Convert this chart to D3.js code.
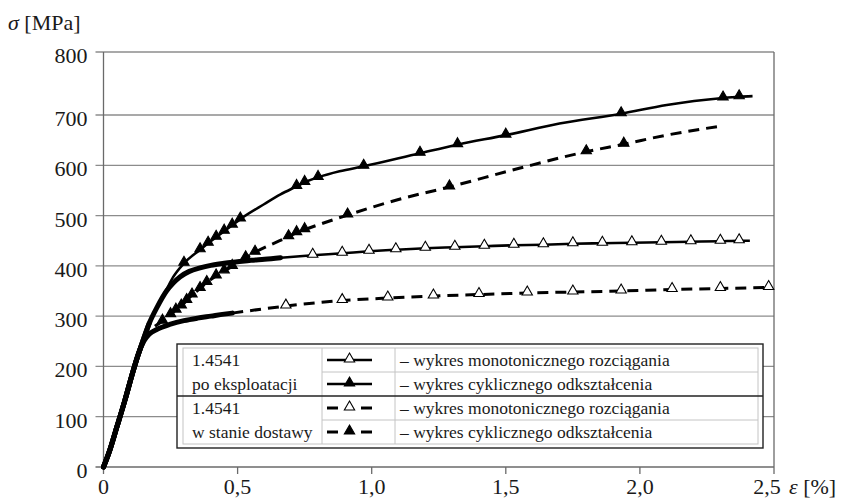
<!DOCTYPE html>
<html>
<head>
<meta charset="utf-8">
<script src="https://cdn.jsdelivr.net/npm/d3@7"></script>
<style>
  body { margin: 0; background: #fff; }
</style>
</head>
<body>
<svg id="chart" width="852" height="500"></svg>
<script>
// ---- axis ticks ----
const stressTicks = [0, 100, 200, 300, 400, 500, 600, 700, 800];
const strainTicks = [0, 0.5, 1.0, 1.5, 2.0, 2.5];
const strainTickLabels = ["0", "0,5", "1,0", "1,5", "2,0", "2,5"];

// ---- 1.4541 po eksploatacji: monotonic tension ----
const serviceMonoDense = [[0,0],[0.02,28],[0.05,80],[0.08,133],[0.11,190],[0.14,240],[0.17,285],[0.20,318],[0.235,350],[0.26,366],[0.285,378],[0.32,389],[0.36,396],[0.40,401],[0.45,405],[0.50,408],[0.55,411],[0.60,413],[0.66,416]];
const serviceMonoMarks = [[0.78,421],[0.89,425],[0.99,429],[1.09,432],[1.20,435],[1.31,437],[1.42,439],[1.53,441],[1.64,442],[1.75,444],[1.86,445],[1.97,446],[2.08,447],[2.19,448],[2.30,449],[2.37,450]];
const serviceMonoTail = [[2.41,450]];

// ---- 1.4541 po eksploatacji: cyclic strain curve ----
const serviceCycDense = [[0,0],[0.02,28],[0.05,80],[0.08,133],[0.11,190],[0.14,240],[0.17,285]];
const serviceCycMarks = [[0.30,405],[0.36,432],[0.39,445],[0.42,457],[0.45,469],[0.48,481],[0.51,493],[0.72,558],[0.75,566],[0.80,576],[0.97,598],[1.18,624],[1.32,641],[1.50,660],[1.93,702],[2.31,727],[2.37,729]];
const serviceCycTail = [[0.20,319],[0.235,353],[0.26,378],[0.60,523],[0.66,542],[0.88,588],[1.70,683],[2.10,716],[2.42,730]];

// ---- 1.4541 w stanie dostawy: monotonic tension ----
const deliveryMonoDense = [[0,0],[0.02,28],[0.05,80],[0.08,133],[0.11,190],[0.13,225],[0.15,250],[0.17,264],[0.20,274],[0.25,284],[0.30,291],[0.35,296],[0.40,300],[0.45,304],[0.48,306]];
const deliveryMonoMarks = [[0.68,320],[0.89,331],[1.06,336],[1.23,340],[1.40,343],[1.58,346],[1.75,348],[1.93,350],[2.12,353],[2.30,355],[2.48,357]];
const deliveryMonoTail = [];

// ---- 1.4541 w stanie dostawy: cyclic strain curve ----
const deliveryCycDense = [[0,0],[0.02,28],[0.05,80],[0.08,133],[0.11,190],[0.13,225],[0.15,252]];
const deliveryCycMarks = [[0.22,290],[0.25,303],[0.27,312],[0.29,320],[0.31,331],[0.33,342],[0.36,355],[0.385,367],[0.42,380],[0.45,390],[0.48,399],[0.53,416],[0.565,427],[0.69,458],[0.72,466],[0.75,472],[0.91,501],[1.29,557],[1.80,627],[1.94,642]];
const deliveryCycTail = [[0.17,268],[0.19,279],[1.10,532],[1.55,594],[2.10,660],[2.29,677]];

// ---- legend ----
const legendGroups = [["1.4541", "po eksploatacji"], ["1.4541", "w stanie dostawy"]];
const legendLabels = ["– wykres monotonicznego rozciągania", "– wykres cyklicznego odkształcenia",
                      "– wykres monotonicznego rozciągania", "– wykres cyklicznego odkształcenia"];

const serif = "'Liberation Serif', 'Times New Roman', Times, 'DejaVu Serif', serif";
const svg = d3.select("#chart")
  .attr("font-family", serif)
  .style("font-family", serif);

const x = d3.scaleLinear().domain([0, 2.5]).range([103.5, 774]);
const y = d3.scaleLinear().domain([0, 700, 800]).range([467, 115, 52]);

const gridColor = "#8c8c8c";
const axisColor = "#6a6a6a";
const textColor = "#1a1a1a";

// horizontal grid lines (they also form the left tick marks)
svg.append("g").selectAll("line").data(stressTicks).join("line")
  .attr("x1", x(0) - 8).attr("x2", x(2.5))
  .attr("y1", d => y(d)).attr("y2", d => y(d))
  .attr("stroke", d => d === 0 ? axisColor : gridColor).attr("stroke-width", 1.3);

// left axis line and right frame line
[0, 2.5].forEach(v => svg.append("line")
  .attr("x1", x(v)).attr("x2", x(v)).attr("y1", y(800)).attr("y2", y(0))
  .attr("stroke", axisColor).attr("stroke-width", 1.3));

// bottom tick marks
svg.append("g").selectAll("line").data(strainTicks).join("line")
  .attr("x1", d => x(d)).attr("x2", d => x(d))
  .attr("y1", y(0)).attr("y2", y(0) + 7)
  .attr("stroke", axisColor).attr("stroke-width", 1.3);

// stress tick labels
svg.append("g").selectAll("text").data(stressTicks).join("text")
  .attr("x", x(0) - 16).attr("y", d => y(d) + 11)
  .attr("text-anchor", "end").attr("font-size", 22).attr("fill", textColor)
  .text(d => d);

// strain tick labels (the last one is pulled in to leave room for the unit)
svg.append("g").selectAll("text").data(strainTicks).join("text")
  .attr("x", (d, i) => x(d) - (i === strainTicks.length - 1 ? 7 : 0)).attr("y", 494)
  .attr("text-anchor", "middle").attr("font-size", 22).attr("fill", textColor)
  .text((d, i) => strainTickLabels[i]);

// axis titles
const yTitle = svg.append("text").attr("x", 8).attr("y", 30).attr("font-size", 22).attr("fill", textColor);
yTitle.append("tspan").attr("font-style", "italic").text("σ");
yTitle.append("tspan").text(" [MPa]");
const xTitle = svg.append("text").attr("x", 789).attr("y", 494).attr("font-size", 22).attr("fill", textColor);
xTitle.append("tspan").attr("font-style", "italic").text("ε");
xTitle.append("tspan").text(" [%]");

// curves
const line = d3.line().x(d => x(d[0])).y(d => y(d[1])).curve(d3.curveMonotoneX);
const tri = d3.symbol().type(d3.symbolTriangle).size(46);

const series = [
  { dense: serviceMonoDense, marks: serviceMonoMarks, tail: serviceMonoTail, dash: null, filled: false },
  { dense: serviceCycDense, marks: serviceCycMarks, tail: serviceCycTail, dash: null, filled: true },
  { dense: deliveryMonoDense, marks: deliveryMonoMarks, tail: deliveryMonoTail, dash: "11,7", filled: false },
  { dense: deliveryCycDense, marks: deliveryCycMarks, tail: deliveryCycTail, dash: "11,7", filled: true }
];

const curveLayer = svg.append("g");
series.forEach(s => {
  const all = s.dense.concat(s.marks, s.tail).sort((a, b) => a[0] - b[0]);
  const lastDense = s.dense[s.dense.length - 1][0];
  const rest = all.filter(d => d[0] >= lastDense);
  // measured part: densely sampled points merge into a thick band
  curveLayer.append("path").attr("d", line(s.dense))
    .attr("fill", "none").attr("stroke", "#000").attr("stroke-width", 5)
    .attr("stroke-linejoin", "round").attr("stroke-linecap", "round");
  curveLayer.append("path").attr("d", line(rest))
    .attr("fill", "none").attr("stroke", "#000").attr("stroke-width", s.dash ? 3 : 2.6)
    .attr("stroke-dasharray", s.dash);
});
series.forEach(s => {
  curveLayer.append("g").selectAll("path").data(s.marks).join("path")
    .attr("d", tri)
    .attr("transform", d => `translate(${x(d[0])},${y(d[1]) - 1})`)
    .attr("fill", s.filled ? "#000" : "#fff")
    .attr("stroke", "#000").attr("stroke-width", 1.1);
});

// legend table
const L = { x0: 177, x1: 763, y0: 344, y1: 448, c1: 322, c2: 395 };
const lg = svg.append("g");
lg.append("rect").attr("x", L.x0).attr("y", L.y0).attr("width", L.x1 - L.x0).attr("height", L.y1 - L.y0)
  .attr("fill", "#fff").attr("stroke", "#222").attr("stroke-width", 1.4);
lg.append("rect").attr("x", L.x0 + 6).attr("y", L.y0 + 4).attr("width", L.x1 - L.x0 - 11).attr("height", L.y1 - L.y0 - 8)
  .attr("fill", "none").attr("stroke", "#c4c4c4").attr("stroke-width", 1);
[L.c1, L.c2].forEach(cx => lg.append("line").attr("x1", cx).attr("x2", cx)
  .attr("y1", L.y0 + 4).attr("y2", L.y1 - 4).attr("stroke", "#c4c4c4"));
const rowH = (L.y1 - L.y0 - 8) / 4;
const rowTop = i => L.y0 + 4 + i * rowH;
[1, 3].forEach(i => lg.append("line").attr("x1", L.c1).attr("x2", L.x1 - 5)
  .attr("y1", rowTop(i)).attr("y2", rowTop(i)).attr("stroke", "#c4c4c4"));
lg.append("line").attr("x1", L.x0).attr("x2", L.x1).attr("y1", rowTop(2)).attr("y2", rowTop(2))
  .attr("stroke", "#222").attr("stroke-width", 1.4);

legendGroups.forEach((g, gi) => {
  g.forEach((t, li) => lg.append("text").attr("x", 192).attr("y", rowTop(gi * 2 + li) + rowH / 2 + 6)
    .attr("font-size", 17.5).attr("fill", textColor).text(t));
});
legendLabels.forEach((t, i) => lg.append("text").attr("x", 400).attr("y", rowTop(i) + rowH / 2 + 6)
  .attr("font-size", 17.5).attr("fill", textColor).text(t));

series.forEach((s, i) => {
  const cy = rowTop(i) + rowH / 2;
  const sx0 = 327, sx1 = 372, mid = (sx0 + sx1) / 2;
  if (s.dash) {
    lg.append("line").attr("x1", sx0).attr("x2", sx0 + 11).attr("y1", cy).attr("y2", cy)
      .attr("stroke", "#000").attr("stroke-width", 3);
    lg.append("line").attr("x1", sx1 - 11).attr("x2", sx1).attr("y1", cy).attr("y2", cy)
      .attr("stroke", "#000").attr("stroke-width", 3);
  } else {
    lg.append("line").attr("x1", sx0).attr("x2", sx1).attr("y1", cy).attr("y2", cy)
      .attr("stroke", "#000").attr("stroke-width", 2.6);
  }
  lg.append("path").attr("d", tri).attr("transform", `translate(${mid},${cy - 1})`)
    .attr("fill", s.filled ? "#000" : "#fff").attr("stroke", "#000").attr("stroke-width", 1.1);
});
</script>
</body>
</html>
